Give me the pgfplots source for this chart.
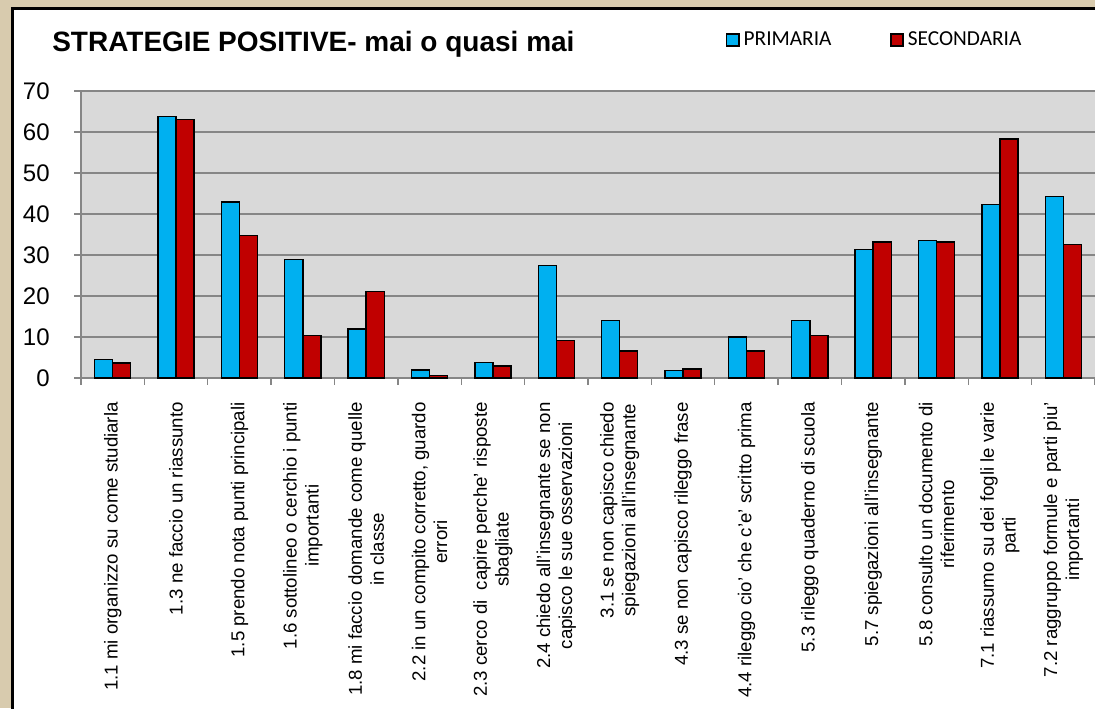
\documentclass[border=0pt]{standalone}
\usepackage{pgfplots}
\pgfplotsset{compat=1.18}
\usepackage{fontspec}
\setmainfont{Liberation Sans}
\newfontfamily\carlito{Carlito}
\definecolor{prim}{HTML}{00B0F0}
\definecolor{sec}{HTML}{C00000}
\definecolor{plotbg}{HTML}{D9D9D9}
\definecolor{gridc}{HTML}{868686}
\definecolor{parch}{HTML}{D8CBAE}
\begin{document}
\begin{tikzpicture}
\useasboundingbox (0,0) rectangle (821.25pt,531pt);
\fill[parch] (0,0) rectangle (821.25pt,531pt);
\fill[white] (9pt,-5pt) rectangle (830pt,524.25pt);
\draw[black, line width=2.25pt] (9pt,-5pt) -- (9pt,524.25pt) -- (830pt,524.25pt);
\begin{axis}[
  at={(60.75pt,247.5pt)}, anchor=south west,
  scale only axis, width=760.5pt, height=215.25pt,
  ybar, bar width=0.285,
  xmin=-0.5, xmax=15.5, ymin=0, ymax=70,
  ytick={0,10,...,70},
  xtick={-0.5,0.5,...,15.5},
  x tick label as interval,
  xticklabels={
    {1.1 mi organizzo su come studiarla},
    {1.3 ne faccio un riassunto},
    {1.5 prendo nota punti principali},
    {1.6 sottolineo o cerchio i punti\\importanti},
    {1.8 mi faccio domande come quelle\\in classe},
    {2.2 in un compito corretto, guardo\\errori},
    {2.3 cerco di \ capire perche' risposte\\sbagliate},
    {2.4 chiedo all'insegnante se non\\capisco le sue osservazioni},
    {3.1 se non capisco chiedo\\spiegazioni all'insegnante},
    {4.3 se non capisco rileggo frase},
    {4.4 rileggo cio' che c'e' scritto prima},
    {5.3 rileggo quaderno di scuola},
    {5.7 spiegazioni all'insegnante},
    {5.8 consulto un documento di\\riferimento},
    {7.1 riassumo su dei fogli le varie\\parti},
    {7.2 raggruppo formule e parti piu'\\importanti}},
  xticklabel style={rotate=90, anchor=east, align=center,
    font=\fontsize{14}{16.4}\selectfont, inner xsep=13pt},
  yticklabel style={font=\fontsize{18}{20}\selectfont, xshift=-15pt},
  /pgf/number format/assume math mode=true,
  axis x line*=bottom, axis y line*=left,
  tick align=outside, major tick length=5pt,
  tick style={gridc, line width=1pt},
  axis line style={gridc, line width=1.1pt},
  ymajorgrids, grid style={gridc, line width=1.1pt},
  axis background/.style={fill=plotbg},
  legend columns=2,
  legend style={at={(0.636,1.178)}, anchor=west, draw=none, fill=none,
    font=\carlito\fontsize{16}{18}\selectfont,
    /tikz/every even column/.append style={column sep=41pt},
    inner sep=0pt, outer sep=0pt, nodes={inner xsep=3pt, inner ysep=0pt}},
]
\addplot[fill=prim, draw=black, line width=1.1pt, bar shift=-0.1425,
  legend image code/.code={\draw[fill=prim,draw=black,line width=1.1pt] (0pt,-4.6pt) rectangle (9.2pt,4.6pt);}]
  coordinates {(0,4.5) (1,63.8) (2,42.9) (3,28.9) (4,12.0) (5,1.9) (6,3.8) (7,27.5)
               (8,14.0) (9,1.8) (10,10.0) (11,14.0) (12,31.4) (13,33.5) (14,42.3) (15,44.3)};
\addplot[fill=sec, draw=black, line width=1.1pt, bar shift=0.1425,
  legend image code/.code={\draw[fill=sec,draw=black,line width=1.1pt] (0pt,-4.6pt) rectangle (9.2pt,4.6pt);}]
  coordinates {(0,3.7) (1,63.0) (2,34.8) (3,10.4) (4,21.1) (5,0.65) (6,2.9) (7,9.1)
               (8,6.6) (9,2.2) (10,6.6) (11,10.4) (12,33.2) (13,33.2) (14,58.3) (15,32.5)};
\legend{PRIMARIA, SECONDARIA}
\end{axis}
\node[anchor=base west, inner sep=0pt, font=\bfseries\fontsize{21}{25}\selectfont] at (39pt,492pt) {STRATEGIE POSITIVE- mai o quasi mai};
\end{tikzpicture}
\end{document}
